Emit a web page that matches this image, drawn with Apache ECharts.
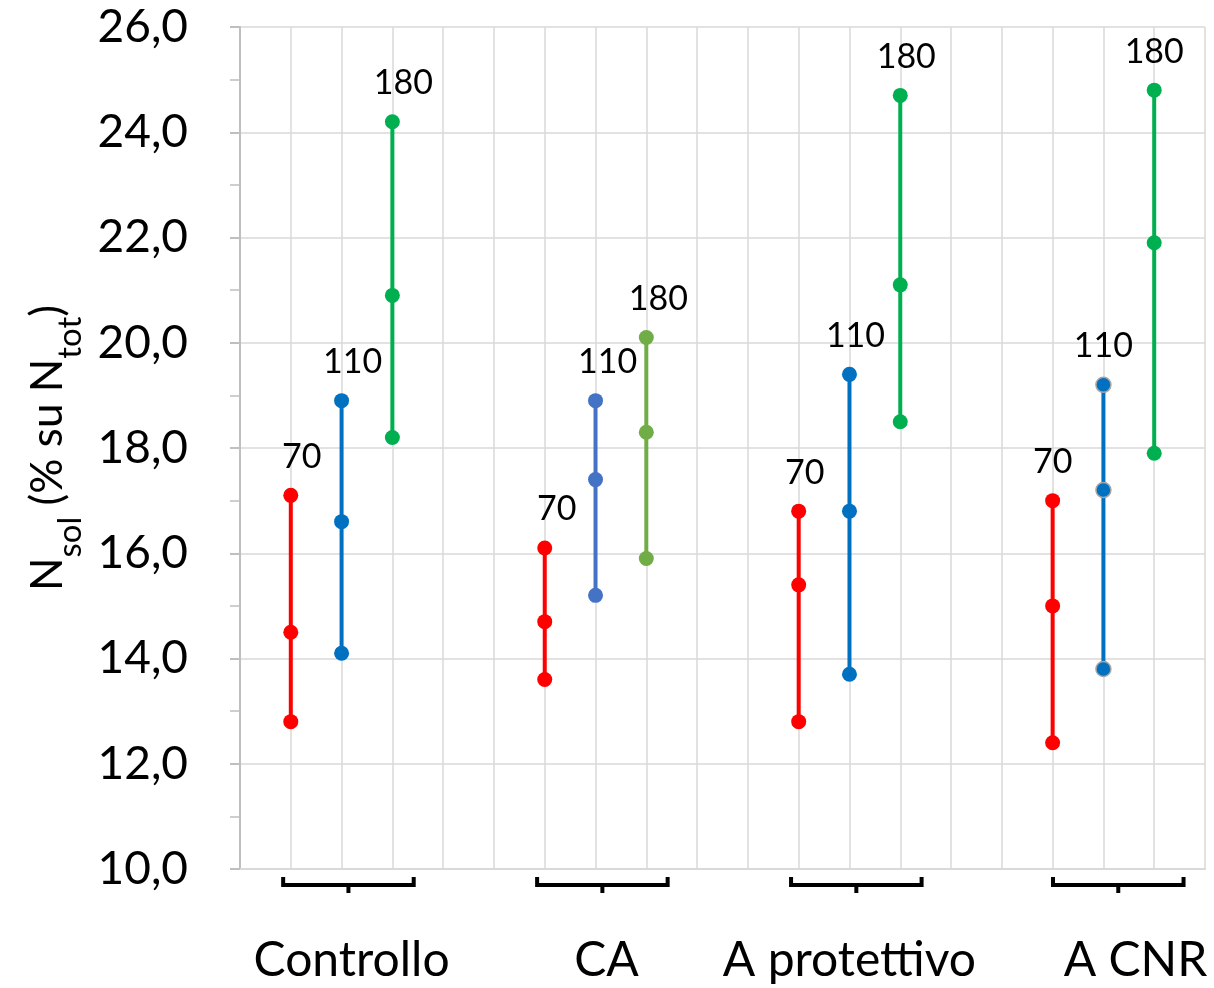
<!DOCTYPE html>
<html>
<head>
<meta charset="utf-8">
<script src="https://cdn.jsdelivr.net/npm/echarts@6/dist/echarts.min.js"></script>
<style>
  html, body { margin: 0; padding: 0; background: #fff; }
  #chart { width: 1214px; height: 988px; }
</style>
</head>
<body>
<div id="chart"></div>
<script>
// groups on the x axis and the three doses inside each group
var groups = ['Controllo', 'CA', 'A protettivo', 'A CNR'];
var doses = ['70', '110', '180'];

// values per group, per dose (70, 110, 180)
var lowVals  = [[12.8, 14.1, 18.2], [13.6, 15.2, 15.9], [12.8, 13.7, 18.5], [12.4, 13.8, 17.9]];
var midVals  = [[14.5, 16.6, 20.9], [14.7, 17.4, 18.3], [15.4, 16.8, 21.1], [15.0, 17.2, 21.9]];
var highVals = [[17.1, 18.9, 24.2], [16.1, 18.9, 20.1], [16.8, 19.4, 24.7], [17.0, 19.2, 24.8]];

var yTicks = [10, 12, 14, 16, 18, 20, 22, 24, 26];

var colors = [
    ['#FF0000', '#0070C0', '#00B050'],
    ['#FF0000', '#4472C4', '#70AD47'],
    ['#FF0000', '#0070C0', '#00B050'],
    ['#FF0000', '#0070C0', '#00B050']
];
var labelShift = [11, 12, 6, 0];
var font = 'Lato';

var chart = echarts.init(document.getElementById('chart'));

var series = [];
groups.forEach(function (g, gi) {
    doses.forEach(function (d, di) {
        var x = gi * 5 + di + 1;
        var c = colors[gi][di];
        var cnr = gi === 3 && di === 1;
        series.push({
            type: 'line',
            symbol: 'circle',
            symbolSize: 15,
            lineStyle: { color: c, width: 4 },
            itemStyle: { color: c, borderColor: cnr ? '#A6A6A6' : c, borderWidth: cnr ? 1.5 : 0 },
            emphasis: { disabled: true },
            z: 3,
            data: [
                [x, lowVals[gi][di]],
                [x, midVals[gi][di]],
                {
                    value: [x, highVals[gi][di]],
                    label: {
                        show: true,
                        position: 'top',
                        distance: 14,
                        offset: [labelShift[gi], 0],
                        formatter: d,
                        color: '#000',
                        fontFamily: font,
                        fontSize: 34
                    }
                }
            ]
        });
    });
});

// brackets under each group
series.push({
    type: 'custom',
    silent: true,
    data: groups.map(function (g, gi) { return [gi * 5 + 1, gi * 5 + 3]; }),
    renderItem: function (params, api) {
        var a = api.coord([api.value(0) - 0.15, yTicks[0]]);
        var b = api.coord([api.value(1) + 0.42, yTicks[0]]);
        if (params.dataIndex === 3) { a[0] += 8; b[0] += 8; }
        var y0 = a[1] + 8, y1 = a[1] + 16, mid = (a[0] + b[0]) / 2;
        var st = { stroke: '#000', lineWidth: 4, fill: null };
        return {
            type: 'group',
            children: [
                { type: 'polyline', shape: { points: [[a[0], y0], [a[0], y1], [b[0], y1], [b[0], y0]] }, style: st },
                { type: 'line', shape: { x1: mid, y1: y1, x2: mid, y2: y1 + 8 }, style: st }
            ]
        };
    }
});

var labelPad = [20, 22, 0, 64];

var option = {
    animation: false,
    grid: { left: 240, right: 9, top: 27, bottom: 119 },
    xAxis: {
        type: 'value',
        min: 0,
        max: 19,
        interval: 1,
        axisLine: { show: true, onZero: false, lineStyle: { color: '#D9D9D9', width: 2 } },
        axisTick: { show: false },
        splitLine: { show: true, lineStyle: { color: '#D9D9D9', width: 1.5 } },
        axisLabel: {
            margin: 68,
            color: '#000',
            fontFamily: font,
            fontSize: 48,
            showMaxLabel: false,
            formatter: function (v) {
                var gi = (v - 2) / 5;
                if (gi % 1 === 0 && groups[gi]) return '{g' + gi + '|' + groups[gi] + '}';
                return '';
            },
            rich: {
                g0: { fontFamily: font, fontSize: 48, padding: [0, 0, 0, labelPad[0]] },
                g1: { fontFamily: font, fontSize: 48, padding: [0, 0, 0, labelPad[1]] },
                g2: { fontFamily: font, fontSize: 48, padding: [0, 0, 0, labelPad[2]] },
                g3: { fontFamily: font, fontSize: 48, padding: [0, 0, 0, labelPad[3]] }
            }
        }
    },
    yAxis: {
        type: 'value',
        min: yTicks[0],
        max: yTicks[yTicks.length - 1],
        interval: 2,
        name: '{m|N}{s|sol}{m| (% su N}{s|tot}{m|)}',
        nameLocation: 'middle',
        nameGap: 158,
        nameRotate: 90,
        nameTextStyle: {
            rich: {
                m: { fontFamily: font, fontSize: 44, color: '#000', lineHeight: 46, verticalAlign: 'top' },
                s: { fontFamily: font, fontSize: 33, color: '#000', lineHeight: 34, padding: [28, 0, 0, 0], verticalAlign: 'top' }
            }
        },
        axisLine: { show: true, lineStyle: { color: '#BFBFBF', width: 2 } },
        axisTick: { show: true, length: 10, lineStyle: { color: '#BFBFBF', width: 2 } },
        minorTick: { show: true, splitNumber: 2, length: 10, lineStyle: { color: '#BFBFBF', width: 1.5 } },
        splitLine: { show: true, lineStyle: { color: '#D9D9D9', width: 1.5 } },
        axisLabel: {
            margin: 52,
            color: '#000',
            fontFamily: font,
            fontSize: 46,
            formatter: function (v) { return v.toFixed(1).replace('.', ','); }
        }
    },
    series: series
};

chart.setOption(option);
</script>
</body>
</html>
